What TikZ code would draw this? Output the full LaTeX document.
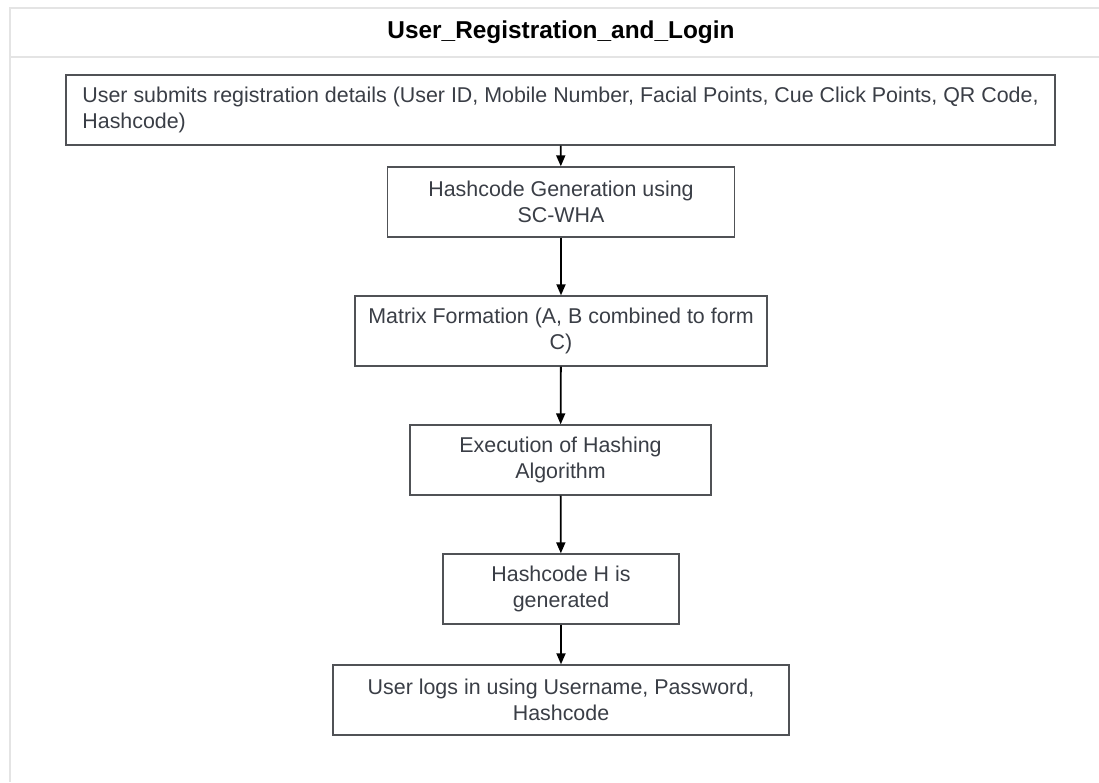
\documentclass[tikz,border=0pt]{standalone}
\usepackage{fontspec}
\setmainfont{Liberation Sans}
\usetikzlibrary{arrows.meta}
\definecolor{txtgray}{HTML}{3A3E46}
\definecolor{boxline}{HTML}{505256}
\definecolor{framegray}{HTML}{E4E4E4}
\tikzset{
  stepbox/.style={draw=boxline, line width=1.4pt, rectangle, inner sep=0pt,
    minimum height=70pt, text=txtgray, align=center,
    font=\fontsize{21.4}{26}\selectfont},
  flow/.style={draw=black, line width=1.8pt,
    -{Triangle[length=11pt,width=9pt]}}
}
\begin{document}
\begin{tikzpicture}[x=1pt,y=-1pt]
\useasboundingbox (0,0) rectangle (1099,782);
\fill[white] (0,0) rectangle (1099,782);
% frame
\draw[framegray, line width=1.5pt] (1099,8) -- (10,8) -- (10,782);
\draw[framegray, line width=1.5pt] (10,57) -- (1099,57);
\node[font=\bfseries\fontsize{24.4}{28}\selectfont, text=black] (title) at (561,32) {User\_Registration\_and\_Login};
% boxes
\node[stepbox, minimum width=989pt, align=left] (b1) at (560.5,110)
  {User submits registration details (User ID, Mobile Number, Facial Points, Cue Click Points, QR Code,\\Hashcode)};
\node[stepbox, minimum width=347pt] (b2) at (561,202) {Hashcode Generation using\\SC-WHA};
\node[stepbox, minimum width=412pt] (b3) at (561,331) {Matrix Formation (A, B combined to form\\C)};
\node[stepbox, minimum width=301pt] (b4) at (560.5,460) {Execution of Hashing\\Algorithm};
\node[stepbox, minimum width=236pt] (b5) at (561,589) {Hashcode H is\\generated};
\node[stepbox, minimum width=456pt] (b6) at (561,700) {User logs in using Username, Password,\\Hashcode};
% connectors
\draw[flow] (b1) -- (b2);
\draw[flow] (b2) -- (b3);
\draw[flow] (b3) -- (b4);
\draw[flow] (b4) -- (b5);
\draw[flow] (b5) -- (b6);
\end{tikzpicture}
\end{document}
